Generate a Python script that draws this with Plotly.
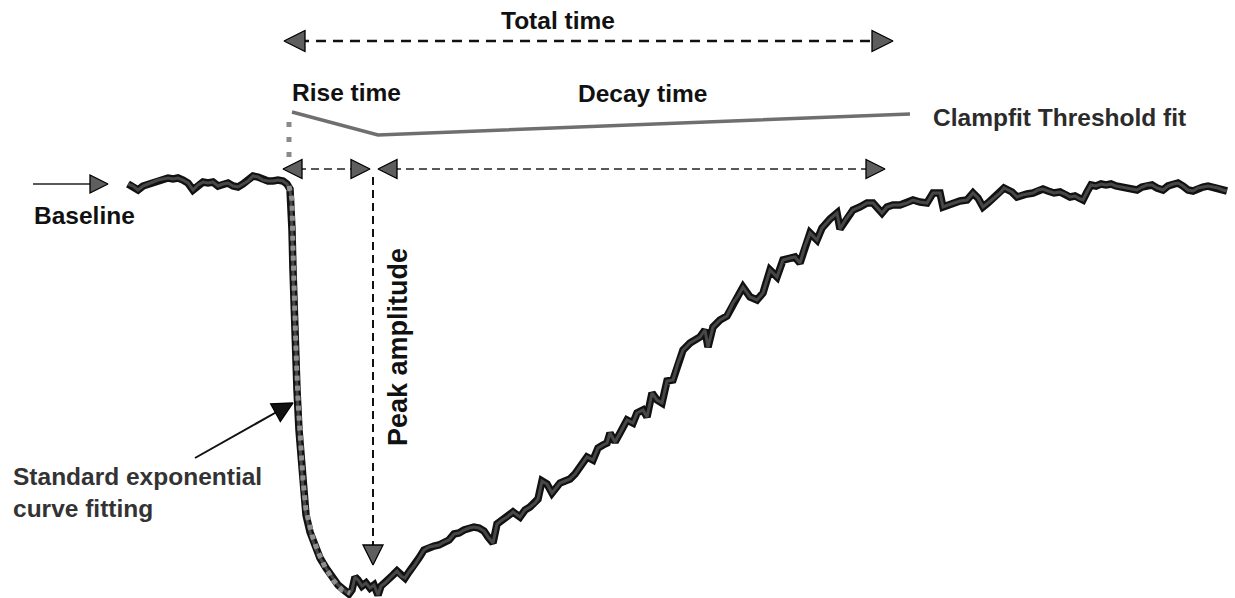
import plotly.graph_objects as go

# ---- Recorded transient: time (x) vs. signal (y, screen-down positive) ----
trace_t = [128, 133, 138, 143, 148, 153, 158, 163, 168, 173, 178, 183, 188, 193, 198, 203,
           208, 213, 218, 223, 228, 233, 238, 243, 248, 253, 258, 263, 268, 273, 278, 283,
           287, 290,
           291, 292, 293, 294, 296, 297, 299, 301, 303, 306, 310, 315, 320, 326, 332, 338,
           344, 349,
           352, 355, 358, 362, 366, 370, 374, 378, 381, 385, 389, 393, 397, 401, 405, 409,
           414, 419, 424, 429, 434, 439, 444, 449, 454, 459, 464, 469, 474, 479, 484, 488,
           493, 497, 502, 507, 513, 520, 525, 530, 535, 538, 542, 547, 552, 556, 560, 565,
           570, 575, 580, 584, 587, 593, 598, 603, 607, 610, 615, 620, 624, 627, 633, 637,
           643, 647, 652, 657, 662, 667, 673, 678, 683, 690, 695, 700, 705, 708, 713, 720,
           727, 733, 738, 743, 750, 757, 763, 770, 777, 783, 790, 795, 800, 805, 810, 817,
           822, 830, 837, 840, 846, 853, 860, 867, 873, 882, 887, 893, 900, 907, 913, 920,
           927, 933, 940, 943, 948, 953, 960, 967, 973, 978, 983, 988, 993, 1000, 1004, 1008,
           1012, 1017, 1022, 1027, 1033, 1038, 1043, 1048, 1054, 1060, 1065, 1070, 1075, 1080,
           1083, 1087, 1091, 1096, 1101, 1106, 1111, 1116, 1121, 1126, 1131, 1137, 1142, 1147,
           1152, 1157, 1163, 1168, 1173, 1178, 1183, 1188, 1193, 1198, 1203, 1208, 1213, 1218,
           1223, 1227]
trace_f = [184, 186, 190, 186, 184, 182, 180, 179, 178, 179, 178, 180, 183, 190, 185, 182,
           183, 182, 186, 184, 183, 186, 187, 184, 181, 176, 177, 180, 181, 181, 180, 181,
           184, 189,
           200, 230, 270, 310, 350, 390, 430, 460, 490, 515, 532, 547, 558, 568, 577, 585,
           590, 594,
           590, 577, 580, 586, 583, 588, 585, 595, 586, 583, 579, 575, 571, 576, 578, 572,
           566, 558, 550, 547, 546, 545, 542, 540, 534, 533, 530, 528, 527, 528, 531, 537,
           543, 524, 520, 517, 512, 517, 510, 507, 503, 499, 481, 484, 493, 488, 483, 481,
           479, 474, 467, 461, 457, 460, 448, 445, 443, 433, 442, 433, 426, 420, 423, 413,
           410, 417, 393, 400, 403, 381, 380, 363, 350, 343, 340, 337, 330, 347, 327, 320,
           316, 303, 296, 287, 297, 300, 293, 270, 277, 260, 258, 257, 263, 246, 233, 240,
           228, 219, 213, 229, 219, 210, 207, 203, 203, 213, 207, 205, 205, 203, 200, 202,
           203, 193, 193, 207, 205, 203, 201, 200, 193, 198, 207, 203, 199, 193, 188, 190,
           192, 197, 195, 194, 193, 190, 189, 191, 193, 192, 194, 197, 196, 199,
           200, 192, 185, 186, 184, 185, 184, 186, 187, 188, 189, 190, 187, 185,
           185, 188, 190, 186, 184, 183, 186, 190, 191, 188, 187, 186, 187, 188,
           190, 191]

# ---- Standard exponential fit over the rising phase ----
fit_t = [289, 292, 293, 294, 296, 298, 300, 303, 306, 312, 318, 325, 333, 342, 350]
fit_f = [186, 200, 250, 300, 350, 400, 440, 480, 510, 535, 552, 567, 580, 590, 593]

# ---- Clampfit threshold fit (rise segment, then decay segment) ----
thresh_t = [292, 378, 910]
thresh_f = [112, 135, 114]

# ---- Event timing landmarks ----
onset_t = 289
peak_t = 373
rise_span = [283, 370]
decay_span = [378, 885]
total_span = [284, 893]
baseline_level = 184
peak_level = 565
timing_level = 169
total_level = 41
threshold_top = [122, 160]

HEAD_FILL = "#5e5e5e"
FONT = "Liberation Sans, Arial, Helvetica, sans-serif"

fig = go.Figure()


def line(xs, ys, color="#111", width=2, dash="solid"):
    fig.add_trace(go.Scatter(x=xs, y=ys, mode="lines", hoverinfo="skip",
                             line=dict(color=color, width=width, dash=dash),
                             cliponaxis=False))


def head(x, y, symbol, fill=HEAD_FILL, size=19, angle=0):
    fig.add_trace(go.Scatter(x=[x], y=[y], mode="markers", hoverinfo="skip",
                             cliponaxis=False,
                             marker=dict(symbol=symbol, size=size, angle=angle,
                                         color=fill,
                                         line=dict(color="#000", width=1.3))))


# Recorded trace: dark outline with a grey core
line(trace_t, trace_f, color="#111", width=7.5)
line(trace_t, trace_f, color="#474747", width=3)

# Exponential fit drawn over the rising phase
line(fit_t, fit_f, color="#8e8e8e", width=5, dash="5px,5px")

# Threshold marker above onset
line([onset_t, onset_t], threshold_top, color="#8a8a8a", width=5, dash="5px,10px")

# Clampfit threshold fit
line(thresh_t, thresh_f, color="#6f6f6f", width=3.5)

# Total time double arrow
line([total_span[0] + 15, total_span[1] - 15], [total_level, total_level],
     color="#111", width=2.6, dash="10px,7px")
head(total_span[0], total_level, "arrow-left", size=21)
head(total_span[1], total_level, "arrow-right", size=21)

# Rise time double arrow
line([rise_span[0] + 15, rise_span[1] - 15], [timing_level, timing_level],
     color="#222", width=1.6, dash="8px,5px")
head(rise_span[0], timing_level, "arrow-left")
head(rise_span[1], timing_level, "arrow-right")

# Decay time double arrow
line([decay_span[0] + 15, decay_span[1] - 15], [timing_level, timing_level],
     color="#222", width=1.6, dash="8px,5px")
head(decay_span[0], timing_level, "arrow-left")
head(decay_span[1], timing_level, "arrow-right")

# Peak amplitude arrow
line([peak_t, peak_t], [baseline_level - 7, peak_level - 15],
     color="#111", width=2, dash="8px,5px")
head(peak_t, peak_level, "arrow-down", size=20)

# Baseline pointer
line([33, 95], [baseline_level, baseline_level], color="#222", width=1.5)
head(108, baseline_level, "arrow-right", size=18)

# Pointer to the exponential fit
line([195, 282], [458, 409], color="#111", width=2)
head(293, 403, "arrow-right", fill="#111", size=20, angle=-29)

labels = [
    dict(text="Total time", x=558, y=20, xanchor="center", size=24.5),
    dict(text="Rise time", x=290, y=92, xanchor="left", size=24.5),
    dict(text="Decay time", x=576, y=93, xanchor="left", size=24.5),
    dict(text="Clampfit Threshold fit", x=931, y=117, xanchor="left", size=24.5,
         color="#2b2b2b"),
    dict(text="Baseline", x=32, y=215, xanchor="left", size=24.5),
    dict(text="Standard exponential<br>curve fitting", x=11, y=492, xanchor="left",
         size=24.5, color="#333"),
]
for lab in labels:
    fig.add_annotation(x=lab["x"], y=lab["y"], text="<b>%s</b>" % lab["text"],
                       showarrow=False, xanchor=lab["xanchor"], yanchor="middle",
                       align="left",
                       font=dict(family=FONT, size=lab["size"],
                                 color=lab.get("color", "#111")))

fig.add_annotation(x=398, y=347, text="<b>Peak amplitude</b>", textangle=-90,
                   showarrow=False, xanchor="center", yanchor="middle",
                   font=dict(family=FONT, size=27, color="#111"))

fig.update_layout(
    width=1235, height=598,
    margin=dict(l=0, r=0, t=0, b=0),
    paper_bgcolor="white", plot_bgcolor="white",
    showlegend=False,
    xaxis=dict(range=[0, 1235], visible=False, fixedrange=True),
    yaxis=dict(range=[598, 0], visible=False, fixedrange=True),
)

fig.write_html("out.html")
